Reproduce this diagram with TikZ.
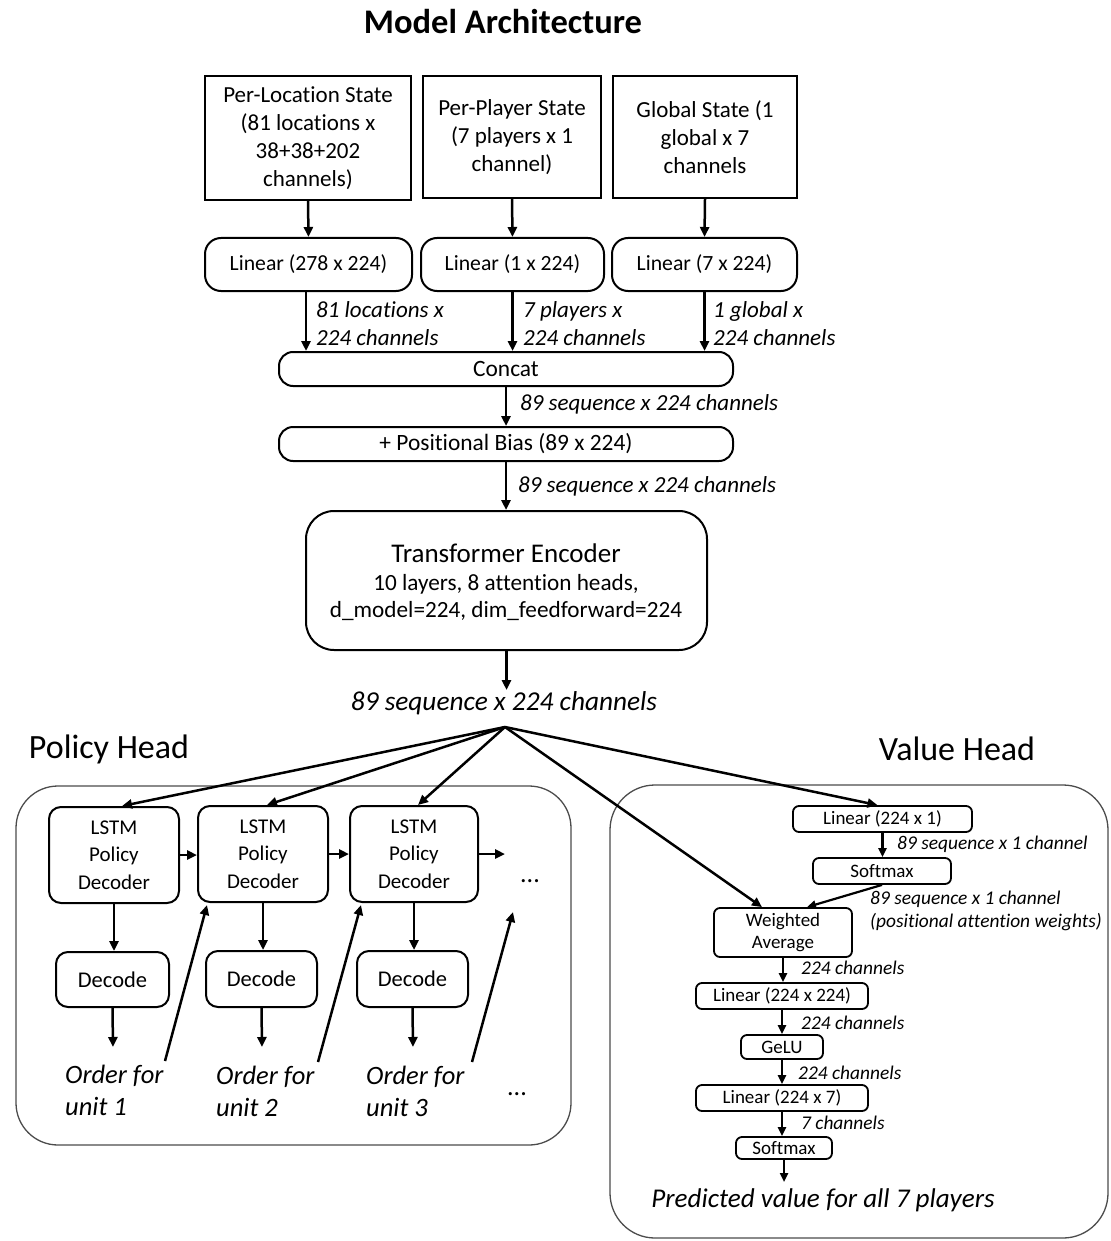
\documentclass[tikz,border=0pt]{standalone}
\usepackage{fontspec}
\setmainfont[Ligatures=NoCommon]{Carlito}
\usetikzlibrary{arrows.meta,calc}
\newcommand{\fsz}[2]{\fontsize{#1}{#2}\selectfont}
\begin{document}
\begin{tikzpicture}[x=1pt,y=-1pt,
  font=\fsz{22}{28},
  sbox/.style={draw, line width=2pt, inner sep=0pt, align=center},
  rbox/.style={sbox, rounded corners=16pt},
  lbox/.style={draw, line width=2pt, rounded corners=12pt, inner sep=0pt, align=center, font=\fsz{21}{27.5}},
  vbox/.style={draw, line width=1.8pt, rounded corners=6pt, inner sep=0pt, align=center, font=\fsz{19}{22}},
  container/.style={draw=black!70, line width=1.3pt, inner sep=0pt},
  arr/.style={line width=2.5pt, -{Triangle[length=10pt,width=9pt]}},
  varr/.style={line width=2.2pt, -{Triangle[length=9pt,width=8pt]}},
  lab/.style={font=\itshape\fsz{23}{28}, inner sep=0pt, anchor=west, align=left},
  vlab/.style={font=\itshape\fsz{19.4}{23}, inner sep=0pt, anchor=west, align=left},
  ord/.style={font=\itshape\fsz{26.5}{32}, inner sep=0pt, anchor=west, align=left},
]
\useasboundingbox (0,0) rectangle (1110,1241);

% title
\node[font=\bfseries\fsz{34.5}{40}] (title) at (503,22) {Model Architecture};

% inputs
\node[sbox, font=\fsz{23}{28}, minimum width=206pt, minimum height=124pt] (b1) at (308,138) {Per-Location State\\(81 locations x\\38+38+202\\channels)};
\node[sbox, font=\fsz{23}{28}, minimum width=178pt, minimum height=122pt] (b2) at (512,137) {Per-Player State\\(7 players x 1\\channel)};
\node[sbox, font=\fsz{23}{28}, minimum width=184pt, minimum height=122pt] (b3) at (705,137) {Global State (1\\global x 7\\channels};

% linear
\node[rbox, font=\fsz{21.7}{28}, minimum width=207pt, minimum height=53pt] (l1) at (308.5,264.5) {Linear (278 x 224)};
\node[rbox, font=\fsz{21.7}{28}, minimum width=183pt, minimum height=53pt] (l2) at (512.5,264.5) {Linear (1 x 224)};
\node[rbox, font=\fsz{21.7}{28}, minimum width=185pt, minimum height=53pt] (l3) at (704.5,264.5) {Linear (7 x 224)};

\draw[arr] (b1.south) -- (l1.north);
\draw[arr] (b2.south) -- (l2.north);
\draw[arr] (b3.south) -- (l3.north);

% concat
\node[rbox, font=\fsz{23.4}{28}, rounded corners=14pt, minimum width=454pt, minimum height=34pt] (cc) at (506,369) {Concat};
\draw[arr] ([xshift=-2.5pt]l1.south) -- ([xshift=-2.5pt]l1.south |- cc.north);
\draw[arr] (l2.south) -- (l2.south |- cc.north);
\draw[arr] (l3.south) -- (l3.south |- cc.north);
\node[lab] (lab1) at (316,324) {81 locations x\\224 channels};
\node[lab] (lab2) at (523,324) {7 players x\\224 channels};
\node[lab] (lab3) at (713,324) {1 global x\\224 channels};

% positional bias
\node[rbox, font=\fsz{23.4}{28}, rounded corners=14pt, minimum width=454pt, minimum height=34pt] (pb) at (506,444) {+ Positional Bias (89 x 224)};
\draw[arr] (cc.south) -- (pb.north);
\node[lab] (lab4) at (520,404) {89 sequence x 224 channels};

% transformer
\node[rbox, rounded corners=28pt, minimum width=401pt, minimum height=139pt] (tf) at (506.5,580.5) {};
\node[font=\fsz{27}{30}, inner sep=0pt] (tft) at (506,553) {Transformer Encoder};
\node[align=center, inner sep=0pt, font=\fsz{23.2}{27}] (tfs) at (506,597) {10 layers, 8 attention heads,\\d\_model=224, dim\_feedforward=224};
\draw[arr] (pb.south) -- (pb.south |- tf.north);
\node[lab] (lab5) at (518,486) {89 sequence x 224 channels};

% hub
\coordinate (tfo) at (506.5,690);
\draw[arr] (tf.south) -- (tfo);
\node[font=\itshape\fsz{27.3}{30}, inner sep=0pt] (hl) at (504,703) {89 sequence x 224 channels};
\coordinate (hub) at (505,727);

\node[font=\fsz{34}{40}, inner sep=0pt] (ph) at (109,749) {Policy Head};
\node[font=\fsz{34}{40}, inner sep=0pt] (vh) at (957,749) {Value Head};

% containers
\draw[container, rounded corners=42pt] (16,786) rectangle (571,1145);
\draw[container, rounded corners=45pt] (610,785) rectangle (1108,1238);

% policy head
\node[lbox, minimum width=130pt, minimum height=96pt] (ls1) at (114,855) {LSTM\\Policy\\Decoder};
\node[lbox, minimum width=130pt, minimum height=96pt] (ls2) at (263,854) {LSTM\\Policy\\Decoder};
\node[lbox, minimum width=128pt, minimum height=96pt] (ls3) at (414,854) {LSTM\\Policy\\Decoder};
\node[lbox, font=\fsz{22.5}{26}, minimum width=113pt, minimum height=55pt] (de1) at (112.5,979.5) {Decode};
\node[lbox, font=\fsz{22.5}{26}, minimum width=111pt, minimum height=56pt] (de2) at (261.5,979) {Decode};
\node[lbox, font=\fsz{22.5}{26}, minimum width=111pt, minimum height=56pt] (de3) at (412.5,979) {Decode};

\draw[arr] (ls1.south) -- (ls1.south |- de1.north);
\draw[arr] (ls2.south) -- (ls2.south |- de2.north);
\draw[arr] (ls3.south) -- (ls3.south |- de3.north);

\draw[arr] (ls1.east) -- (ls1.east -| ls2.west);
\draw[arr] (ls2.east) -- (ls2.east -| ls3.west);
\coordinate (ls3o) at (505,854);
\draw[arr] (ls3.east) -- (ls3o);
\node[inner sep=0pt, font=\fsz{26}{30}] (dots1) at (530,881) {...};
\node[inner sep=0pt, font=\fsz{26}{30}] (dots2) at (517,1094) {...};

\coordinate (o1) at (113,1047);
\coordinate (o2) at (262,1047);
\coordinate (o3) at (413,1047);
\draw[arr] (de1.south) -- (o1);
\draw[arr] (de2.south) -- (o2);
\draw[arr] (de3.south) -- (o3);
\node[ord] (t1) at (65,1090) {Order for\\unit 1};
\node[ord] (t2) at (216,1091) {Order for\\unit 2};
\node[ord] (t3) at (366,1091) {Order for\\unit 3};

\coordinate (u1s) at (165,1061);
\coordinate (u1e) at (207,905);
\coordinate (u2s) at (318,1062);
\coordinate (u2e) at (361,905);
\coordinate (u3s) at (472,1062);
\coordinate (u3e) at (513,912);
\draw[arr] (u1s) -- (u1e);
\draw[arr] (u2s) -- (u2e);
\draw[arr] (u3s) -- (u3e);

% value head
\node[vbox, minimum width=179pt, minimum height=26pt] (vl1) at (882.5,819) {Linear (224 x 1)};
\node[vbox, minimum width=138pt, minimum height=26pt] (vs1) at (882,871) {Softmax};
\node[vbox, minimum width=138pt, minimum height=49pt] (wa) at (783,932.5) {Weighted\\Average};
\node[vbox, minimum width=172pt, minimum height=26pt] (vl2) at (782,996) {Linear (224 x 224)};
\node[vbox, minimum width=82pt, minimum height=24pt] (ge) at (782,1047) {GeLU};
\node[vbox, minimum width=172pt, minimum height=26pt] (vl3) at (782,1098) {Linear (224 x 7)};
\node[vbox, minimum width=96pt, minimum height=22pt] (vs2) at (784,1148) {Softmax};

\draw[varr] (vl1.south) -- (vl1.south |- vs1.north);
\draw[varr] (vs1.south) -- ([xshift=24pt]wa.north);
\draw[varr] (wa.south) -- (wa.south |- vl2.north);
\draw[varr] (vl2.south) -- (vl2.south |- ge.north);
\draw[varr] (ge.south) -- (ge.south |- vl3.north);
\draw[varr] (vl3.south) -- (vl3.south |- vs2.north);
\coordinate (vo) at (784,1182);
\draw[varr] (vs2.south) -- (vo);

\node[vlab] (vlab1) at (897,844) {89 sequence x 1 channel};
\node[vlab] (vlab2) at (870,911) {89 sequence x 1 channel\\(positional attention weights)};
\node[vlab] (vlab3) at (801,968) {224 channels};
\node[vlab] (vlab4) at (801,1023) {224 channels};
\node[vlab] (vlab5) at (798,1073) {224 channels};
\node[vlab] (vlab6) at (801,1123) {7 channels};
\node[font=\itshape\fsz{27.1}{30}, inner sep=0pt] (pred) at (823,1200) {Predicted value for all 7 players};

% hub arrows
\draw[arr] (hub) -- ([xshift=8pt]ls1.north);
\draw[arr] (hub) -- ([xshift=4pt]ls2.north);
\draw[arr] (hub) -- ([xshift=4pt]ls3.north);
\draw[arr] (hub) -- ([xshift=-21pt]wa.north);
\draw[arr] (hub) -- ([xshift=-5pt]vl1.north);
\end{tikzpicture}
\end{document}
